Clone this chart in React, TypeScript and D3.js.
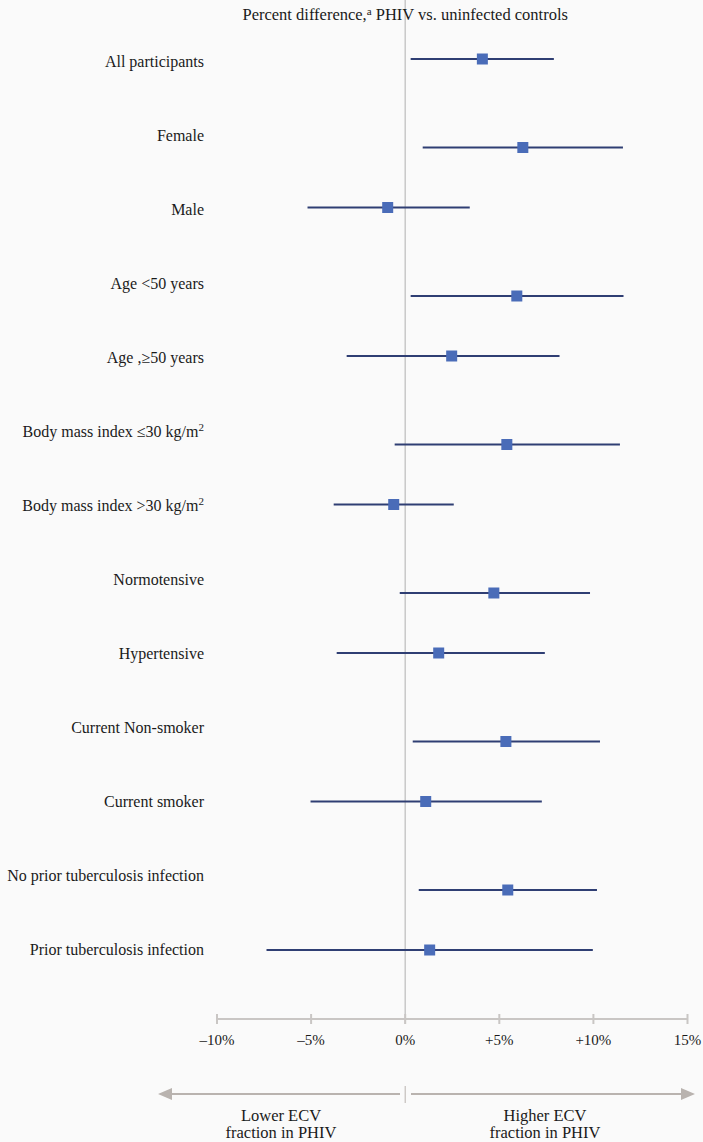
import React, { useEffect } from "react";
import * as d3 from "d3";

const categories = [
  "All participants",
  "Female",
  "Male",
  "Age <50 years",
  "Age ,≥50 years",
  "Body mass index ≤30 kg/m",
  "Body mass index >30 kg/m",
  "Normotensive",
  "Hypertensive",
  "Current Non-smoker",
  "Current smoker",
  "No prior tuberculosis infection",
  "Prior tuberculosis infection",
];
const labelSup = ["", "", "", "", "", "2", "2", "", "", "", "", "", ""];
const groups = [0, 1, 1, 2, 2, 3, 3, 4, 4, 5, 5, 6, 6];
const estimates = [4.1, 6.25, -0.93, 5.93, 2.47, 5.4, -0.61, 4.71, 1.78, 5.35, 1.09, 5.45, 1.3];
const lower = [0.29, 0.93, -5.19, 0.29, -3.11, -0.56, -3.8, -0.29, -3.64, 0.4, -5.03, 0.72, -7.37];
const upper = [7.9, 11.57, 3.43, 11.6, 8.2, 11.41, 2.58, 9.82, 7.42, 10.35, 7.26, 10.19, 9.97];
const tickValues = [-10, -5, 0, 5, 10, 15];
const tickLabels = ["–10%", "–5%", "0%", "+5%", "+10%", "15%"];

const W = 703;
const H = 1142;
const FONT = "Liberation Serif";

export default function App() {
  useEffect(() => {
    document.body.style.margin = "0";
  }, []);

  const x = d3.scaleLinear().domain([-10, 15]).range([217, 687.5]);
  const yLabel = d3.scaleLinear().domain([0, 12]).range([62, 950]);
  const groupGap = 28.5 / 60;
  const yMark = d3.scaleLinear().domain([0, 1]).range([59, 119]);
  const slot = (i: number) => i + groups[i] * groupGap;

  const axisY = 1019;
  const arrowY = 1094;
  const lineCol = "#2f3e73";
  const markCol = "#4a6cb8";
  const grey = "#c9c6c4";
  const arrowCol = "#b9b3af";
  const txt = "#1a1a1a";

  return (
    <svg width={W} height={H} style={{ display: "block", background: "#fafafa" }}>
      <rect x={0} y={0} width={W} height={H} fill="#fafafa" />
      <line x1={x(0)} x2={x(0)} y1={0} y2={axisY + 5} stroke="#c8c8c8" strokeWidth={1.5} />
      <text x={x(0)} y={20} textAnchor="middle" fontFamily={FONT} fontSize={16.5} fill={txt}>
        Percent difference,
        <tspan fontSize={11} dy={-5}>a</tspan>
        <tspan dy={5}> PHIV vs. uninfected controls</tspan>
      </text>
      {categories.map((c, i) => (
        <text key={c} x={204} y={yLabel(i) + 5} textAnchor="end" fontFamily={FONT} fontSize={16} fill={txt}>
          {c}
          {labelSup[i] && (
            <tspan fontSize={11} dy={-6}>{labelSup[i]}</tspan>
          )}
        </text>
      ))}
      {categories.map((c, i) => {
        const y = yMark(slot(i));
        return (
          <g key={"m" + i}>
            <line x1={x(lower[i])} x2={x(upper[i])} y1={y} y2={y} stroke={lineCol} strokeWidth={2.2} />
            <rect x={x(estimates[i]) - 5.5} y={y - 5.5} width={11} height={11} fill={markCol} />
          </g>
        );
      })}
      <line x1={x(-10)} x2={x(15)} y1={axisY} y2={axisY} stroke={grey} strokeWidth={2} />
      {tickValues.map((t, i) => (
        <g key={"t" + t}>
          <line x1={x(t)} x2={x(t)} y1={axisY - 5} y2={axisY + 5} stroke={grey} strokeWidth={2} />
          <text x={x(t)} y={axisY + 26} textAnchor="middle" fontFamily={FONT} fontSize={15} fill={txt}>
            {tickLabels[i]}
          </text>
        </g>
      ))}
      <line x1={170} x2={400} y1={arrowY} y2={arrowY} stroke={arrowCol} strokeWidth={2} />
      <path d={`M158,${arrowY} L172,${arrowY - 6} L172,${arrowY + 6} Z`} fill={arrowCol} />
      <line x1={411} x2={683} y1={arrowY} y2={arrowY} stroke={arrowCol} strokeWidth={2} />
      <path d={`M695,${arrowY} L681,${arrowY - 6} L681,${arrowY + 6} Z`} fill={arrowCol} />
      <line x1={x(0)} x2={x(0)} y1={1086} y2={1103} stroke={arrowCol} strokeWidth={1} />
      <text x={281} y={1121} textAnchor="middle" fontFamily={FONT} fontSize={16.5} fill={txt}>Lower ECV</text>
      <text x={281} y={1138} textAnchor="middle" fontFamily={FONT} fontSize={16.5} fill={txt}>fraction in PHIV</text>
      <text x={545} y={1121} textAnchor="middle" fontFamily={FONT} fontSize={16.5} fill={txt}>Higher ECV</text>
      <text x={545} y={1138} textAnchor="middle" fontFamily={FONT} fontSize={16.5} fill={txt}>fraction in PHIV</text>
    </svg>
  );
}
